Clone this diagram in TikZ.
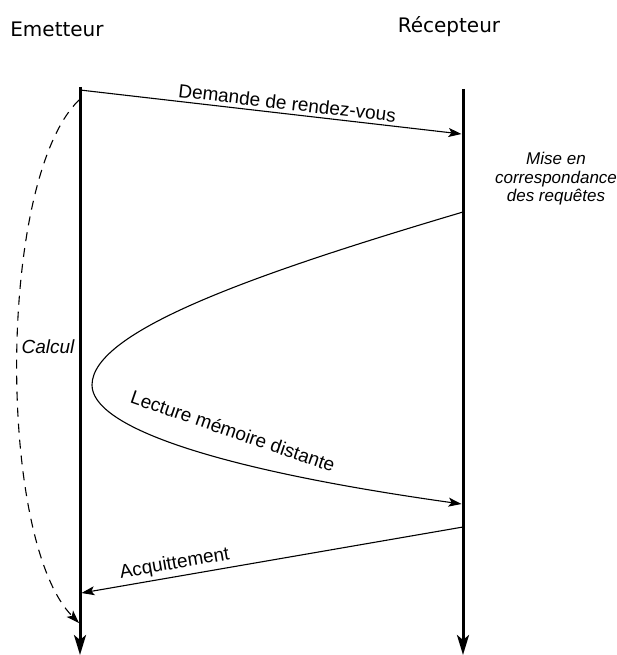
\documentclass[tikz,border=0pt]{standalone}
\usepackage{fontspec}
\setmainfont{Liberation Sans}
\newfontfamily\titlefont{DejaVu Sans}
\usetikzlibrary{arrows.meta}
\tikzset{
  lifeline/.style={line width=3pt,-{Stealth[length=20pt,width=12pt,inset=5pt]}},
  message/.style={line width=1.1pt,-{Stealth[length=13pt,width=9pt,inset=3pt]}},
  calcul/.style={line width=1.1pt,dash pattern=on 9pt off 7pt,-{Stealth[length=13pt,width=9pt,inset=3pt]}},
  actor/.style={font=\titlefont\fontsize{20}{24}\selectfont},
  msglabel/.style={font=\fontsize{19}{22}\selectfont},
  note/.style={font=\itshape\fontsize{17}{18.5}\selectfont,align=center}
}
\begin{document}
\begin{tikzpicture}[x=1pt,y=-1pt]
\useasboundingbox (0,0) rectangle (617,655);
\node[actor,anchor=base] (em) at (57,37) {Emetteur};
\node[actor,anchor=base] (rec) at (449,33) {Récepteur};
% lignes de vie
\coordinate (emtop) at (80,87);
\coordinate (embot) at (80,655);
\coordinate (rectop) at (463,89);
\coordinate (recbot) at (463,655);
\draw[lifeline] (emtop) -- (embot);
\draw[lifeline] (rectop) -- (recbot);
% messages
\coordinate (dem0) at (80,90);
\coordinate (dem1) at (461.5,134);
\draw[message] (dem0) -- node[msglabel,above,sloped,pos=0.54] (demlbl) {Demande de rendez-vous} (dem1);
\node[note,inner sep=1pt] (mise) at (556,179) {Mise en\\correspondance\\des requêtes};
\coordinate (lec0) at (463,212);
\coordinate (lecg) at (92,385);
\coordinate (lec1) at (461.5,504);
\draw[message] (lec0) .. controls (261,272) and (92,330) .. (lecg)
  .. controls (92,425) and (205,468) .. (lec1);
\node[msglabel,rotate=-19] (leclbl) at (233,431) {Lecture mémoire distante};
\coordinate (acq0) at (463,527);
\coordinate (acq1) at (81.5,593);
\draw[message] (acq0) -- node[msglabel,above,sloped,pos=0.75] (acqlbl) {Acquittement} (acq1);
% calcul
\coordinate (cal0) at (79,100);
\coordinate (cal1) at (79,623);
\draw[calcul] (cal0) .. controls (-3,180) and (-3,540) .. (cal1);
\node[note,font=\itshape\fontsize{19}{22}\selectfont] (callbl) at (48,347) {Calcul};
\end{tikzpicture}
\end{document}
